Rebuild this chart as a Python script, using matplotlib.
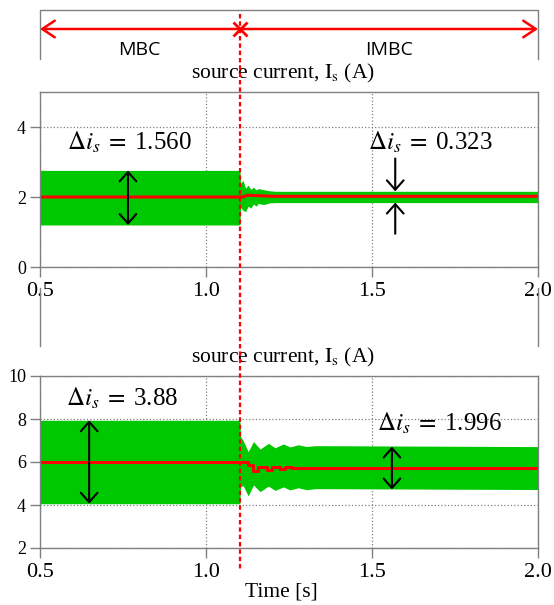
import numpy as np
import matplotlib.pyplot as plt
from matplotlib.transforms import blended_transform_factory

plt.rcParams['font.family'] = 'Liberation Serif'
plt.rcParams['mathtext.fontset'] = 'stix'

# switching instant MBC -> IMBC
t_switch = 1.102

# source current, DC load (top) -- ripple envelope and mean
top_t = [0.5, 1.102, 1.104, 1.112, 1.119, 1.127, 1.135, 1.143, 1.151, 1.158, 1.173, 1.19, 1.21, 2.0]
top_hi = [2.76, 2.76, 2.40, 2.47, 2.25, 2.34, 2.22, 2.28, 2.20, 2.24, 2.21, 2.18, 2.163, 2.163]
top_lo = [1.20, 1.20, 1.70, 1.62, 1.58, 1.74, 1.68, 1.80, 1.74, 1.82, 1.78, 1.83, 1.84, 1.84]
top_mean_t = [0.5, 1.11, 1.125, 1.2, 2.0]
top_mean = [2.0, 2.0, 2.05, 2.02, 2.02]

# source current, second case (bottom)
bot_t = [0.5, 1.102, 1.104, 1.112, 1.127, 1.143, 1.163, 1.188, 1.208, 1.233, 1.253, 1.278, 1.303, 1.33, 2.0]
bot_hi = [7.94, 7.94, 7.18, 7.00, 6.48, 6.95, 6.60, 6.87, 6.66, 6.84, 6.70, 6.80, 6.72, 6.76, 6.716]
bot_lo = [4.06, 4.06, 4.85, 4.90, 4.42, 4.93, 4.62, 4.88, 4.68, 4.84, 4.70, 4.80, 4.71, 4.76, 4.72]
bot_mean_t = [0.5, 1.127, 1.143, 1.158, 1.183, 1.198, 1.223, 1.238, 1.258, 1.273, 1.298, 2.0]
bot_mean = [6.0, 5.86, 5.58, 5.79, 5.64, 5.78, 5.67, 5.76, 5.70, 5.74, 5.72, 5.72]

# ripple annotations: (time, low, high, label)
top_ripple_mbc = (0.765, 1.20, 2.76, '1.560')
top_ripple_imbc = (1.57, 1.84, 2.163, '0.323')
bot_ripple_mbc = (0.648, 4.06, 7.94, '3.88')
bot_ripple_imbc = (1.56, 4.72, 6.716, '1.996')

green = '#00c800'
red = '#ff0000'
grey = '#808080'

fig = plt.figure(figsize=(5.54, 6.05), dpi=100)
ax1 = fig.add_axes([40 / 554, 338 / 605, 498 / 554, 175 / 605])
ax2 = fig.add_axes([40 / 554, 57 / 605, 498 / 554, 172 / 605])


def style_axes(ax, yticks, ylim):
    ax.set_xlim(0.5, 2.0)
    ax.set_ylim(*ylim)
    ax.set_xticks([0.5, 1.0, 1.5, 2.0])
    ax.set_xticklabels(['0.5', '1.0', '1.5', '2.0'])
    ax.set_yticks(yticks)
    ax.set_axisbelow(True)
    ax.grid(True, linestyle=':', color=grey, linewidth=0.9)
    for s in ax.spines.values():
        s.set_color(grey)
        s.set_linewidth(1.0)
    ax.tick_params(axis='both', direction='out', length=7, color=grey, width=1.0)
    ax.tick_params(axis='x', labelsize=16, pad=4)
    ax.tick_params(axis='y', labelsize=13, pad=3)


def title(ax):
    ax.text(0.488, 1.04, r'source current, $\mathrm{I_s}$ (A)', transform=ax.transAxes,
            ha='center', va='bottom', fontsize=15.5)


def delta_label(ax, x, y, lab):
    ax.text(x, y, r'$\Delta i_s\;=\;$' + lab, fontsize=18, ha='center', va='center')


def ripple_arrow(ax, r):
    t, lo, hi, _ = r
    ax.annotate('', xy=(t, lo), xytext=(t, hi),
                arrowprops=dict(arrowstyle='<->,head_length=0.45,head_width=0.4',
                                color='black', lw=1.5, mutation_scale=15,
                                shrinkA=0, shrinkB=0))


ax1.fill_between(top_t, top_lo, top_hi, color=green, linewidth=0)
ax1.plot(top_mean_t, top_mean, color=red, lw=2.2)
style_axes(ax1, [0, 2, 4], (0, 5))
title(ax1)

ax2.fill_between(bot_t, bot_lo, bot_hi, color=green, linewidth=0)
ax2.step(bot_mean_t, bot_mean, where='post', color=red, lw=2.2)
style_axes(ax2, [2, 4, 6, 8, 10], (2, 10))
title(ax2)
ax2.set_xlabel('Time [s]', fontsize=15.5)
ax2.xaxis.set_label_coords(0.484, -0.2)

# top panel ripple markers
ripple_arrow(ax1, top_ripple_mbc)
delta_label(ax1, 0.77, 3.57, top_ripple_mbc[3])
t, lo, hi, lab = top_ripple_imbc
ax1.annotate('', xy=(t, hi), xytext=(t, 3.1),
             arrowprops=dict(arrowstyle='->,head_length=0.45,head_width=0.4', color='black',
                             lw=1.5, mutation_scale=15, shrinkA=0, shrinkB=0))
ax1.annotate('', xy=(t, lo), xytext=(t, 0.95),
             arrowprops=dict(arrowstyle='->,head_length=0.45,head_width=0.4', color='black',
                             lw=1.5, mutation_scale=15, shrinkA=0, shrinkB=0))
delta_label(ax1, 1.675, 3.57, lab)

# bottom panel ripple markers
ripple_arrow(ax2, bot_ripple_mbc)
delta_label(ax2, 0.747, 8.98, bot_ripple_mbc[3])
ripple_arrow(ax2, bot_ripple_imbc)
delta_label(ax2, 1.703, 7.8, bot_ripple_imbc[3])

# switching line across both panels
tr = blended_transform_factory(ax1.transData, fig.transFigure)
fig.add_artist(plt.Line2D([t_switch, t_switch], [1 - 14 / 605, 1 - 570 / 605], transform=tr,
                          color=red, lw=1.6, linestyle=(0, (2, 1.3))))

# mode bracket on top
fig.add_artist(plt.Line2D([0.5, 0.5, 2.0, 2.0], [1 - 59 / 605, 1 - 10 / 605, 1 - 10 / 605, 1 - 59 / 605],
                          transform=tr, color=grey, lw=1.0))
for x in (0.5, 2.0):
    fig.add_artist(plt.Line2D([x, x], [1 - 288 / 605, 1 - 346 / 605], transform=tr, color=grey, lw=1.0))
ya = 1 - 29 / 605
ax1.annotate('', xy=(0.5, ya), xytext=(2.0, ya), xycoords=tr, textcoords=tr,
             arrowprops=dict(arrowstyle='<->,head_length=0.6,head_width=0.4', color=red,
                             lw=1.8, mutation_scale=15, shrinkA=0, shrinkB=0),
             annotation_clip=False)
fig.add_artist(plt.Line2D([t_switch], [ya], transform=tr, marker='x', markersize=10,
                          markeredgewidth=2, color=red))
fig.text(0.8, 1 - 50 / 605, 'MBC', transform=tr, ha='center', va='center',
         fontsize=14, family='Open Sans')
fig.text(1.55, 1 - 50 / 605, 'IMBC', transform=tr, ha='center', va='center',
         fontsize=14, family='Open Sans')

fig.savefig('out.png', dpi=100)
